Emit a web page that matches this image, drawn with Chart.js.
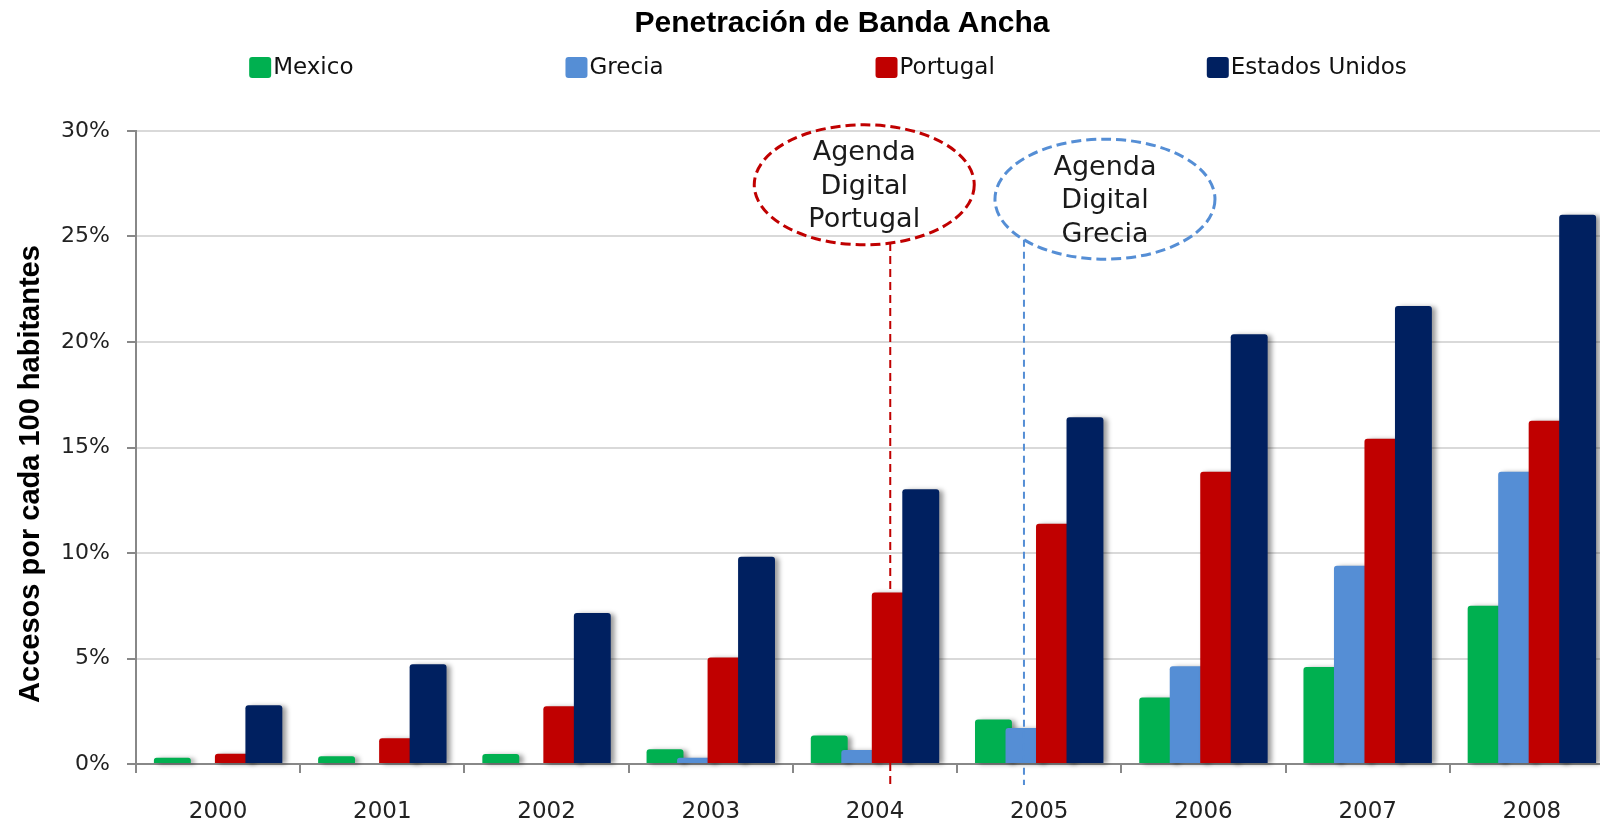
<!DOCTYPE html>
<html>
<head>
<meta charset="utf-8">
<script src="https://cdn.jsdelivr.net/npm/chart.js@4"></script>
<style>
html, body { margin:0; padding:0; overflow:hidden; background:#fff; }
#wrap { position:absolute; left:0; top:0; width:1614px; height:819px; }
</style>
</head>
<body>
<div id="wrap"><canvas id="myChart"></canvas></div>
<script>
// data (% of inhabitants)
var years = ['2000', '2001', '2002', '2003', '2004', '2005', '2006', '2007', '2008'];
var mexico = [0.30, 0.37, 0.47, 0.70, 1.35, 2.11, 3.15, 4.60, 7.50];
var grecia = [null, null, null, 0.30, 0.66, 1.71, 4.63, 9.39, 13.85];
var portugal = [0.49, 1.22, 2.74, 5.05, 8.13, 11.39, 13.85, 15.42, 16.27];
var estadosUnidos = [2.78, 4.73, 7.16, 9.82, 13.02, 16.43, 20.37, 21.71, 26.03];
var seriesNames = ['Mexico', 'Grecia', 'Portugal', 'Estados Unidos'];
var seriesColors = ['#00B050', '#558ED5', '#C00000', '#002060'];
var yMin = 0, yMax = 30, yStep = 5;

var notes = [
    { lines: ['Agenda', 'Digital', 'Portugal'], color: '#C00000', dataset: 2, year: '2004', dx: -26, at: 27.45, dash: [8, 5] },
    { lines: ['Agenda', 'Digital', 'Grecia'], color: '#558ED5', dataset: 1, year: '2005', dx: 81, at: 26.77, dash: [7, 5] }
];

var TEXT = '"DejaVu Sans", sans-serif';
var BOLD = 'bold {s}px "Liberation Sans", Arial, sans-serif';

// title, legend and y title
var header = {
    id: 'header',
    afterDraw: function(chart) {
        var ctx = chart.ctx;
        ctx.save();
        ctx.fillStyle = '#000';
        ctx.font = BOLD.replace('{s}', 30);
        ctx.textAlign = 'center';
        ctx.textBaseline = 'middle';
        ctx.fillText('Penetración de Banda Ancha', 842, 24);

        ctx.save();
        ctx.translate(31, 474);
        ctx.rotate(-Math.PI / 2);
        ctx.font = BOLD.replace('{s}', 29);
        ctx.fillText('Accesos por cada 100 habitantes', 0, 0);
        ctx.restore();

        ctx.font = '23px ' + TEXT;
        var gap = 212, box = 22;
        var widths = seriesNames.map(function(n) { return box + 2 + ctx.measureText(n).width; });
        var total = widths.reduce(function(a, b) { return a + b; }, 0) + gap * (widths.length - 1);
        var x = 828 - total / 2;
        ctx.textAlign = 'left';
        seriesNames.forEach(function(n, i) {
            ctx.fillStyle = seriesColors[i];
            ctx.beginPath();
            ctx.roundRect(x, 57, box, 21, 3);
            ctx.fill();
            ctx.fillStyle = '#111';
            ctx.fillText(n, x + box + 2, 68);
            x += widths[i] + gap;
        });
        ctx.restore();
    }
};

// later series on top, with a soft shadow like the original
var barOrder = {
    id: 'barOrder',
    beforeDatasetsDraw: function(chart) {
        var ctx = chart.ctx;
        chart.getSortedVisibleDatasetMetas().forEach(function(meta) {
            ctx.save();
            ctx.shadowColor = 'rgba(0,0,0,0.4)';
            ctx.shadowBlur = 5;
            ctx.shadowOffsetX = 4;
            ctx.shadowOffsetY = 1;
            meta.controller.draw();
            ctx.restore();
        });
        return false;
    }
};

var callouts = {
    id: 'callouts',
    afterDraw: function(chart) {
        var ctx = chart.ctx, y = chart.scales.y;
        notes.forEach(function(n) {
            var bar = chart.getDatasetMeta(n.dataset).data[years.indexOf(n.year)];
            var lx = bar.x, cx = lx + n.dx, cy = y.getPixelForValue(n.at);
            var rx = 110, ry = 60;
            var t = (lx - cx) / rx;
            var ly = cy + ry * Math.sqrt(Math.max(0, 1 - t * t));
            ctx.save();
            ctx.strokeStyle = n.color;
            ctx.lineWidth = 2;
            ctx.setLineDash(n.dash);
            ctx.beginPath();
            ctx.moveTo(lx, ly);
            ctx.lineTo(lx, y.getPixelForValue(0) + 21);
            ctx.stroke();
            ctx.lineWidth = 3;
            ctx.setLineDash([10, 5]);
            ctx.beginPath();
            ctx.ellipse(cx, cy, rx, ry, 0, 0, Math.PI * 2);
            ctx.stroke();
            ctx.setLineDash([]);
            ctx.fillStyle = '#1a1a1a';
            ctx.font = '27px ' + TEXT;
            ctx.textAlign = 'center';
            ctx.textBaseline = 'middle';
            n.lines.forEach(function(s, i) {
                ctx.fillText(s, cx, cy + 2 + (i - 1) * 33.5);
            });
            ctx.restore();
        });
    }
};

var series = [mexico, grecia, portugal, estadosUnidos];

let myChart = document.getElementById('myChart').getContext('2d');
let chart1 = new Chart(myChart, {
    type: 'bar',
    data: {
        labels: years,
        datasets: series.map(function(vals, i) {
            return {
                label: seriesNames[i],
                data: vals,
                backgroundColor: seriesColors[i],
                borderRadius: 3,
                categoryPercentage: 0.743,
                barPercentage: 1.21
            };
        })
    },
    options: {
        responsive: true,
        maintainAspectRatio: false,
        animation: false,
        layout: { padding: { top: 131, left: 0, right: 0, bottom: 0 } },
        plugins: {
            legend: { display: false },
            title: { display: false },
            tooltip: { enabled: false }
        },
        scales: {
            x: {
                afterFit: function(s) { s.height = 55; },
                grid: { drawOnChartArea: false, tickLength: 9, color: '#888', lineWidth: 2, offset: true },
                border: { color: '#888', width: 2 },
                ticks: { padding: 25, color: '#222', font: { family: 'DejaVu Sans', size: 23 } }
            },
            y: {
                min: yMin,
                max: yMax,
                afterFit: function(s) { s.width = 136; },
                grid: {
                    color: function(c) { return c.tick && c.tick.value === 0 ? '#888' : '#d9d9d9'; },
                    lineWidth: 2,
                    tickLength: 9,
                    tickColor: '#888'
                },
                border: { color: '#888', width: 2 },
                ticks: {
                    stepSize: yStep,
                    padding: 17,
                    color: '#222',
                    font: { family: 'DejaVu Sans', size: 22 },
                    callback: function(v) { return v + '%'; }
                }
            }
        }
    },
    plugins: [header, barOrder, callouts]
});
</script>
</body>
</html>
